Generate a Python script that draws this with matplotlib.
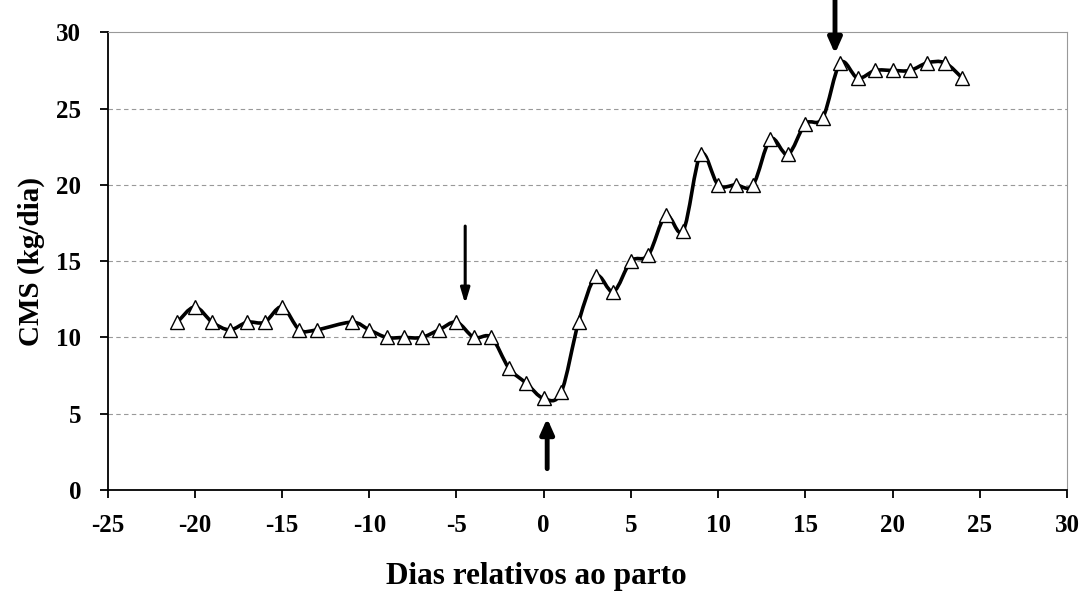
import numpy as np
import matplotlib.pyplot as plt
from matplotlib.path import Path
from matplotlib.patches import PathPatch

# dias relativos ao parto e consumo de materia seca (kg/dia)
dias = [-21, -20, -19, -18, -17, -16, -15, -14, -13, -11, -10, -9, -8, -7, -6, -5,
        -4, -3, -2, -1, 0, 1, 2, 3, 4, 5, 6, 7, 8, 9, 10, 11, 12, 13, 14, 15, 16,
        17, 18, 19, 20, 21, 22, 23, 24]
cms = [11, 12, 11, 10.5, 11, 11, 12, 10.5, 10.5, 11, 10.5, 10, 10, 10, 10.5, 11,
       10, 10, 8, 7, 6, 6.4, 11, 14, 13, 15, 15.4, 18, 17, 22, 20, 20, 20, 23, 22, 24, 24.4,
       28, 27, 27.5, 27.5, 27.5, 28, 28, 27]

# setas (x, y inicio, y fim, espessura)
setas = [(-4.5, 17.3, 12.2, 2.2), (0.2, 1.4, 4.7, 3.5), (16.7, 32.2, 28.6, 3.5)]

plt.rcParams['font.family'] = ['Liberation Serif', 'DejaVu Serif']
plt.rcParams['font.weight'] = 'bold'
plt.rcParams['axes.unicode_minus'] = False

fig = plt.figure(figsize=(10.89, 5.92), dpi=100)
ax = fig.add_axes([0.0988, 0.1723, 0.881, 0.7731])

# smoothed line like excel (bezier segments through the data points)
x = np.array(dias, dtype=float)
y = np.array(cms, dtype=float)
verts = [(x[0], y[0])]
codes = [Path.MOVETO]
t = 1 / 6
for i in range(len(x) - 1):
    p0 = (x[max(i - 1, 0)], y[max(i - 1, 0)])
    p1 = (x[i], y[i])
    p2 = (x[i + 1], y[i + 1])
    p3 = (x[min(i + 2, len(x) - 1)], y[min(i + 2, len(x) - 1)])
    c1 = (p1[0] + (p2[0] - p0[0]) * t, p1[1] + (p2[1] - p0[1]) * t)
    c2 = (p2[0] - (p3[0] - p1[0]) * t, p2[1] - (p3[1] - p1[1]) * t)
    verts += [c1, c2, p2]
    codes += [Path.CURVE4] * 3
ax.add_patch(PathPatch(Path(verts, codes), fill=False, lw=2.6, ec='black', zorder=3))
ax.plot(dias, cms, ls='none', marker='^', ms=9.5, mfc='white', mec='black', mew=1, zorder=4)

for sx, y0, y1, w in setas:
    ax.annotate('', xy=(sx, y1), xytext=(sx, y0), annotation_clip=False,
                arrowprops=dict(arrowstyle='-|>,head_width=%.2f,head_length=%.2f' % (w * 0.1 + 0.05, 0.9),
                                lw=w, color='black', shrinkA=0, shrinkB=0))

ax.set_xlim(-25, 30)
ax.set_ylim(0, 30)
ax.set_xticks(range(-25, 31, 5))
ax.set_yticks(range(0, 31, 5))
for g in range(5, 30, 5):
    ax.axhline(g, color='#999999', ls=(0, (4, 3)), lw=0.8, zorder=1)

ax.spines['top'].set_color('#999999')
ax.spines['right'].set_color('#999999')
ax.spines['left'].set_linewidth(1.3)
ax.spines['bottom'].set_linewidth(1.3)
ax.tick_params(axis='both', direction='out', length=6, width=1.3, labelsize=18)
ax.tick_params(axis='x', pad=11)
ax.tick_params(axis='y', pad=13)
ax.tick_params(right=False, top=False)

ax.set_xlabel('Dias relativos ao parto', fontsize=22.5, fontweight='bold')
ax.xaxis.set_label_coords(0.447, -0.158)
ax.set_ylabel('CMS (kg/dia)', fontsize=21, fontweight='bold', labelpad=8)

plt.savefig('out.png', dpi=100)
